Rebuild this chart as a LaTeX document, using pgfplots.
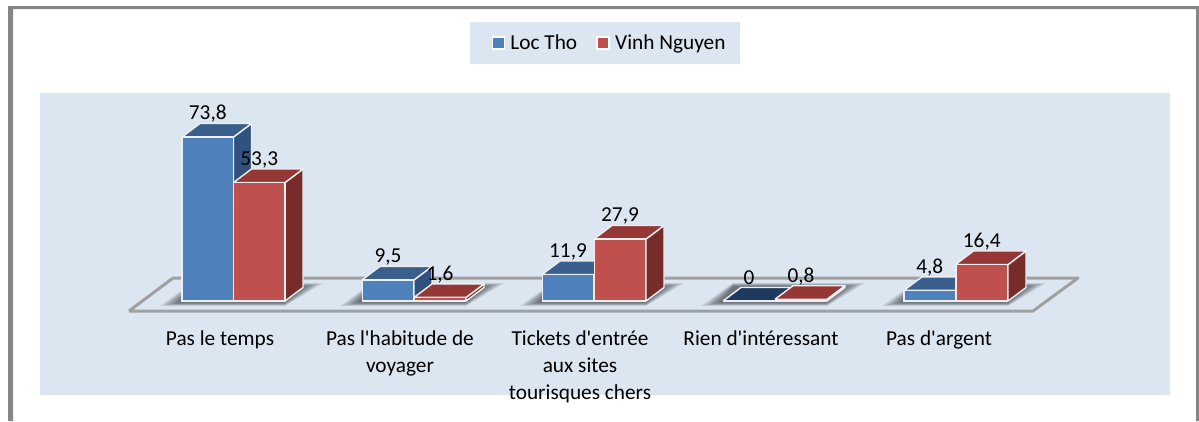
\documentclass[border=0pt]{standalone}
\usepackage{pgfplots}
\pgfplotsset{compat=1.18}
\usepackage{fontspec}
\setmainfont{Carlito}
\newfontfamily\cf{Carlito}
\definecolor{panel}{HTML}{DCE6F1}
\definecolor{frame}{HTML}{868686}
\definecolor{floorc}{HTML}{A0A0A0}
\definecolor{bluefront}{HTML}{4F81BD}
\definecolor{bluetop}{HTML}{3A5F8D}
\definecolor{blueside}{HTML}{2F5280}
\definecolor{bluezero}{HTML}{1F3A60}
\definecolor{redfront}{HTML}{C0504D}
\definecolor{redtop}{HTML}{953735}
\definecolor{redside}{HTML}{772C2A}
\definecolor{edge}{HTML}{EDEFF2}
\newcommand{\shadowlayer}[3]{% x0, x1, inset (pixel axis)
  \pgfmathsetmacro\sa{#1-22+3*#3}\pgfmathsetmacro\sb{#2+38-3*#3}
  \pgfmathsetmacro\sy{306-#3*0.55}\pgfmathsetmacro\st{283+#3*0.55}
  \pgfmathsetmacro\sc{#2}\pgfmathsetmacro\sd{#1+10}
  \addplot[draw=none,fill=black,fill opacity=0.09] coordinates {(\sa,\sy)(\sc,\sy)(\sb,\st)(\sd,\st)(\sa,\sy)};
}
\newcommand{\shadow}[2]{\shadowlayer{#1}{#2}{0}\shadowlayer{#1}{#2}{1}\shadowlayer{#1}{#2}{2}\shadowlayer{#1}{#2}{3}\shadowlayer{#1}{#2}{4}\shadowlayer{#1}{#2}{5}\shadowlayer{#1}{#2}{6}}
\newcommand{\boxfaces}[5]{% x0, x1, value, top colour, side colour
  \pgfmathsetmacro\va{#3+6.08}\pgfmathsetmacro\xa{#1+18}\pgfmathsetmacro\xb{#2+18}\pgfmathsetmacro\vb{6.08}
  \addplot[forget plot,fill=#5,draw=edge,line width=1.4pt,line join=round] coordinates {(#2,0)(\xb,\vb)(\xb,\va)(#2,#3)(#2,0)};
  \addplot[forget plot,fill=#4,draw=edge,line width=1.4pt,line join=round] coordinates {(#1,#3)(\xa,\va)(\xb,\va)(#2,#3)(#1,#3)};
}
\begin{document}
\begin{tikzpicture}
% pixel-space furniture: frame, panels, floor, shadows
\begin{axis}[at={(0,0)},anchor=south west,scale only axis,width=1199pt,height=421pt,
  xmin=0,xmax=1199,ymin=0,ymax=421,y dir=reverse,hide axis]
\addplot[draw=none,fill=frame] coordinates {(8,6)(1199,6)(1199,9)(8,9)(8,6)};
\addplot[draw=none,fill=frame] coordinates {(8,6)(13,6)(13,421)(8,421)(8,6)};
\addplot[draw=none,fill=frame] coordinates {(1196,6)(1199,6)(1199,421)(1196,421)(1196,6)};
\addplot[draw=none,fill=panel] coordinates {(470,22)(740,22)(740,64)(470,64)(470,22)};
\addplot[draw=none,fill=panel] coordinates {(40,93)(1170,93)(1170,395)(40,395)(40,93)};
\addplot[draw=floorc,line width=3pt,line join=round] coordinates {(129,311)(173,278)(1078,278)(1033,311)(129,311)};
\shadow{182}{285}
\shadow{362}{466}
\shadow{542}{646}
\shadow{723}{827}
\shadow{904}{1008}
\end{axis}
% value axis: bars, labels, legend
\begin{axis}[at={(0,0)},anchor=south west,scale only axis,width=1199pt,height=421pt,
  xmin=0,xmax=1199,ymin=-54,ymax=135.45,
  axis line style={draw=none},tick style={draw=none},ytick=\empty,
  xtick={220,400,580,761,939},
  xticklabels={Pas le temps,Pas l'habitude de\\voyager,Tickets d'entrée\\aux sites\\tourisques chers,Rien d'intéressant,Pas d'argent},
  xticklabel style={align=center,anchor=north,yshift=94pt,font=\cf\fontsize{21.3}{27}\selectfont},
  legend style={at={(0.5079,0.898)},anchor=center,draw=none,fill=none,font=\cf\fontsize{21.3}{24}\selectfont,
    /tikz/every even column/.append style={column sep=16pt},inner sep=0pt},
  legend columns=2,
  legend image code/.code={\filldraw[#1,draw=white,line width=1.5pt] (2pt,-6pt) rectangle (14pt,6pt);\path[draw=none,fill=none] (0pt,-6pt) rectangle (18pt,6pt);},
  /pgf/number format/.cd,use comma,fixed,precision=1,assume math mode=true]
% blue series
\boxfaces{182}{233.5}{73.8}{bluetop}{blueside}
\boxfaces{362}{414}{9.5}{bluetop}{blueside}
\boxfaces{542}{594}{11.9}{bluetop}{blueside}
\boxfaces{723}{775}{0}{bluezero}{blueside}
\boxfaces{904}{955.5}{4.8}{bluetop}{blueside}
\addplot[ybar,bar shift=0pt,bar width=51.5,fill=bluefront,draw=edge,line width=1.4pt] coordinates {(207.75,73.8)(388,9.5)(568,11.9)(749,0)(929.75,4.8)};
\addlegendentry{Loc Tho}
% red series
\boxfaces{233.5}{285}{53.3}{redtop}{redside}
\boxfaces{414}{466}{1.6}{redtop}{redside}
\boxfaces{594}{646}{27.9}{redtop}{redside}
\boxfaces{775}{827}{0.8}{redtop}{redside}
\boxfaces{955.5}{1008}{16.4}{redtop}{redside}
\addplot[ybar,bar shift=0pt,bar width=51.5,fill=redfront,draw=edge,line width=1.4pt] coordinates {(259.25,53.3)(440,1.6)(620,27.9)(801,0.8)(981.75,16.4)};
\addlegendentry{Vinh Nguyen}
% data labels
\addplot[forget plot,draw=none,nodes near coords,point meta=y,
  nodes near coords align={anchor=center,yshift=23pt},
  every node near coord/.append style={font=\cf\fontsize{21.3}{24}\selectfont,text=black,inner sep=0pt}]
  coordinates {(207.75,73.8)(388,9.5)(568,11.9)(749,0)(929.75,4.8)(259.25,53.3)(440,1.6)(620,27.9)(801,0.8)(981.75,16.4)};
\end{axis}
\end{tikzpicture}
\end{document}
